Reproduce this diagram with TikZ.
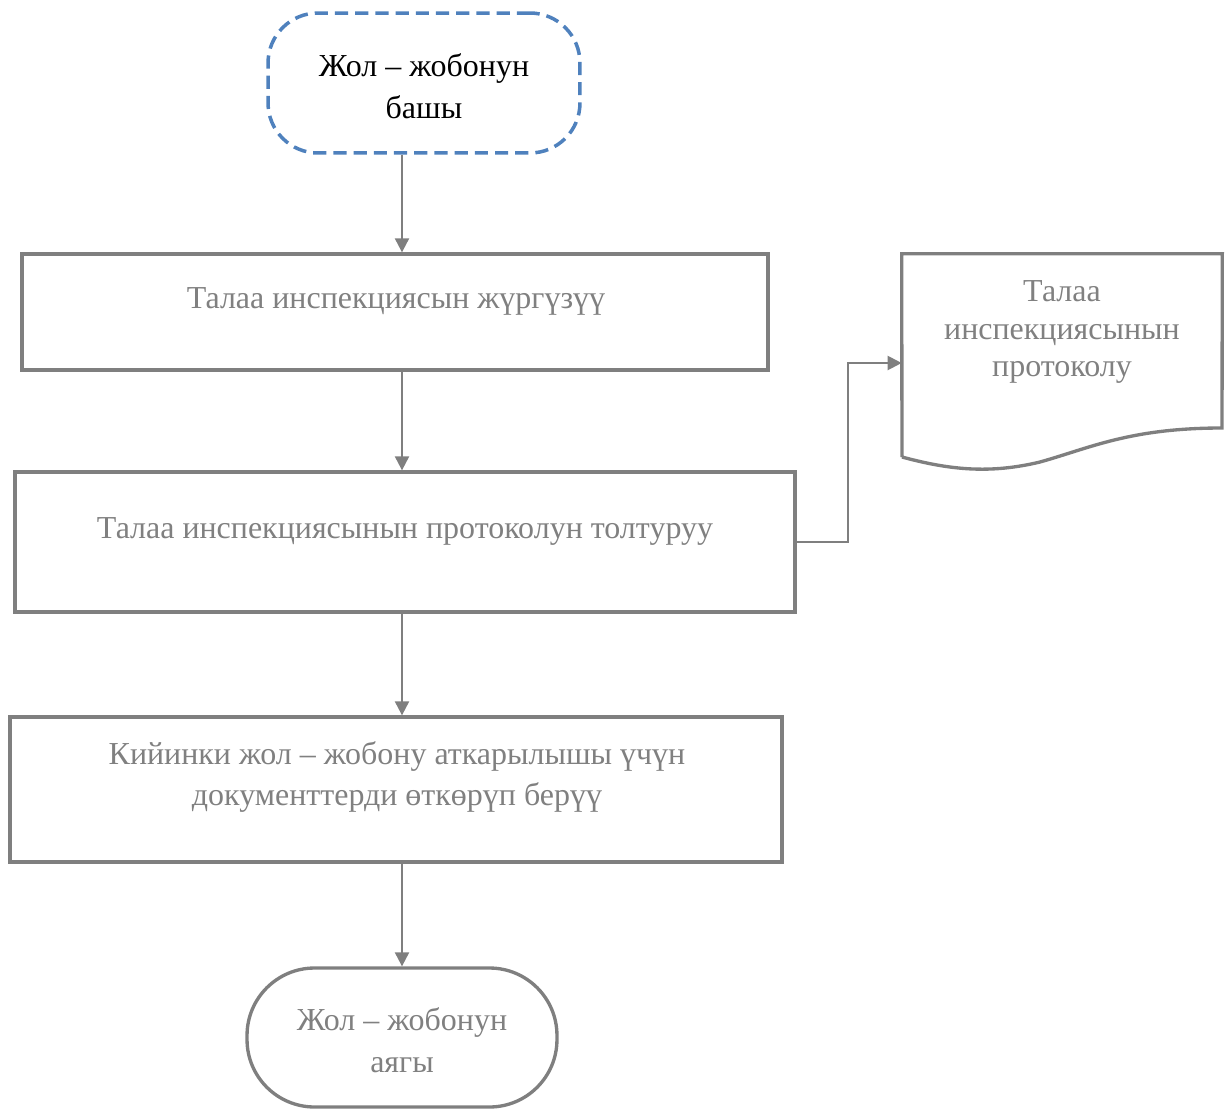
\documentclass[tikz,border=0pt]{standalone}
\usepackage{fontspec}
\setmainfont{Liberation Serif}
\usetikzlibrary{arrows.meta}
\definecolor{linegray}{RGB}{127,127,127}
\definecolor{textgray}{RGB}{128,128,128}
\definecolor{dashblue}{RGB}{79,129,189}

\begin{document}
\begin{tikzpicture}[x=0.02cm, y=-0.02cm,
	box/.style={draw=linegray, line width=1.9pt, inner sep=0pt},
	txt/.style={text=textgray, align=center, inner sep=0pt, font=\fontsize{18.2}{23.8}\selectfont},
	arr/.style={draw=linegray, line width=1.2pt, -{Triangle[length=8pt,width=8pt]}}]
	\useasboundingbox (0,0) rectangle (1228,1109);
	% start
	\node[box, draw=dashblue, line width=2pt, dash pattern=on 7.5pt off 4pt, rounded corners=1cm,
		minimum width=6.24cm, minimum height=2.8cm] (start) at (424,83) {};
	\node[txt, text=black] (startt) at (424,86) {Жол -- жобонун\\башы};
	% steps
	\node[box, minimum width=14.92cm, minimum height=2.32cm] (box1) at (395,312) {};
	\node[txt] (box1t) at (396,301) {Талаа инспекциясын жүргүзүү};
	\node[box, minimum width=15.6cm, minimum height=2.8cm] (box2) at (405,542) {};
	\node[txt] (box2t) at (405,531) {Талаа инспекциясынын протоколун толтуруу};
	\node[box, minimum width=15.44cm, minimum height=2.9cm] (box3) at (396,789.5) {};
	\node[txt] (box3t) at (397,777) {Кийинки жол -- жобону аткарылышы үчүн\\документтерди өткөрүп берүү};
	\node[box, rounded corners=1.35cm, minimum width=6.2cm, minimum height=2.78cm] (term) at (402,1037.5) {};
	\node[txt] (termt) at (402,1040) {Жол -- жобонун\\аягы};
	% document
	\node[minimum width=6.4cm, minimum height=4.36cm, inner sep=0pt] (doc) at (1062,363) {};
	\draw[linegray, line width=1.9pt] (902,457) -- (doc.north west) -- (doc.north east) -- (1222,428)
		.. controls (1130,428) and (1090,448) .. (1040,462)
		.. controls (990,474) and (950,470) .. (902,457);
	\node[txt, font=\fontsize{18.2}{21.3}\selectfont] (doct) at (1062,332) {Талаа\\инспекциясынын\\протоколу};
	% arrows
	\draw[arr] (start.south -| term.north) -- (box1.north -| term.north);
	\draw[arr] (box1.south -| term.north) -- (box2.north -| term.north);
	\draw[arr] (box2.south -| term.north) -- (box3.north -| term.north);
	\draw[arr] (box3.south -| term.north) -- (term.north);
	\draw[arr] (box2.east) -- (848,542) |- (doc.west);
\end{tikzpicture}
\end{document}
